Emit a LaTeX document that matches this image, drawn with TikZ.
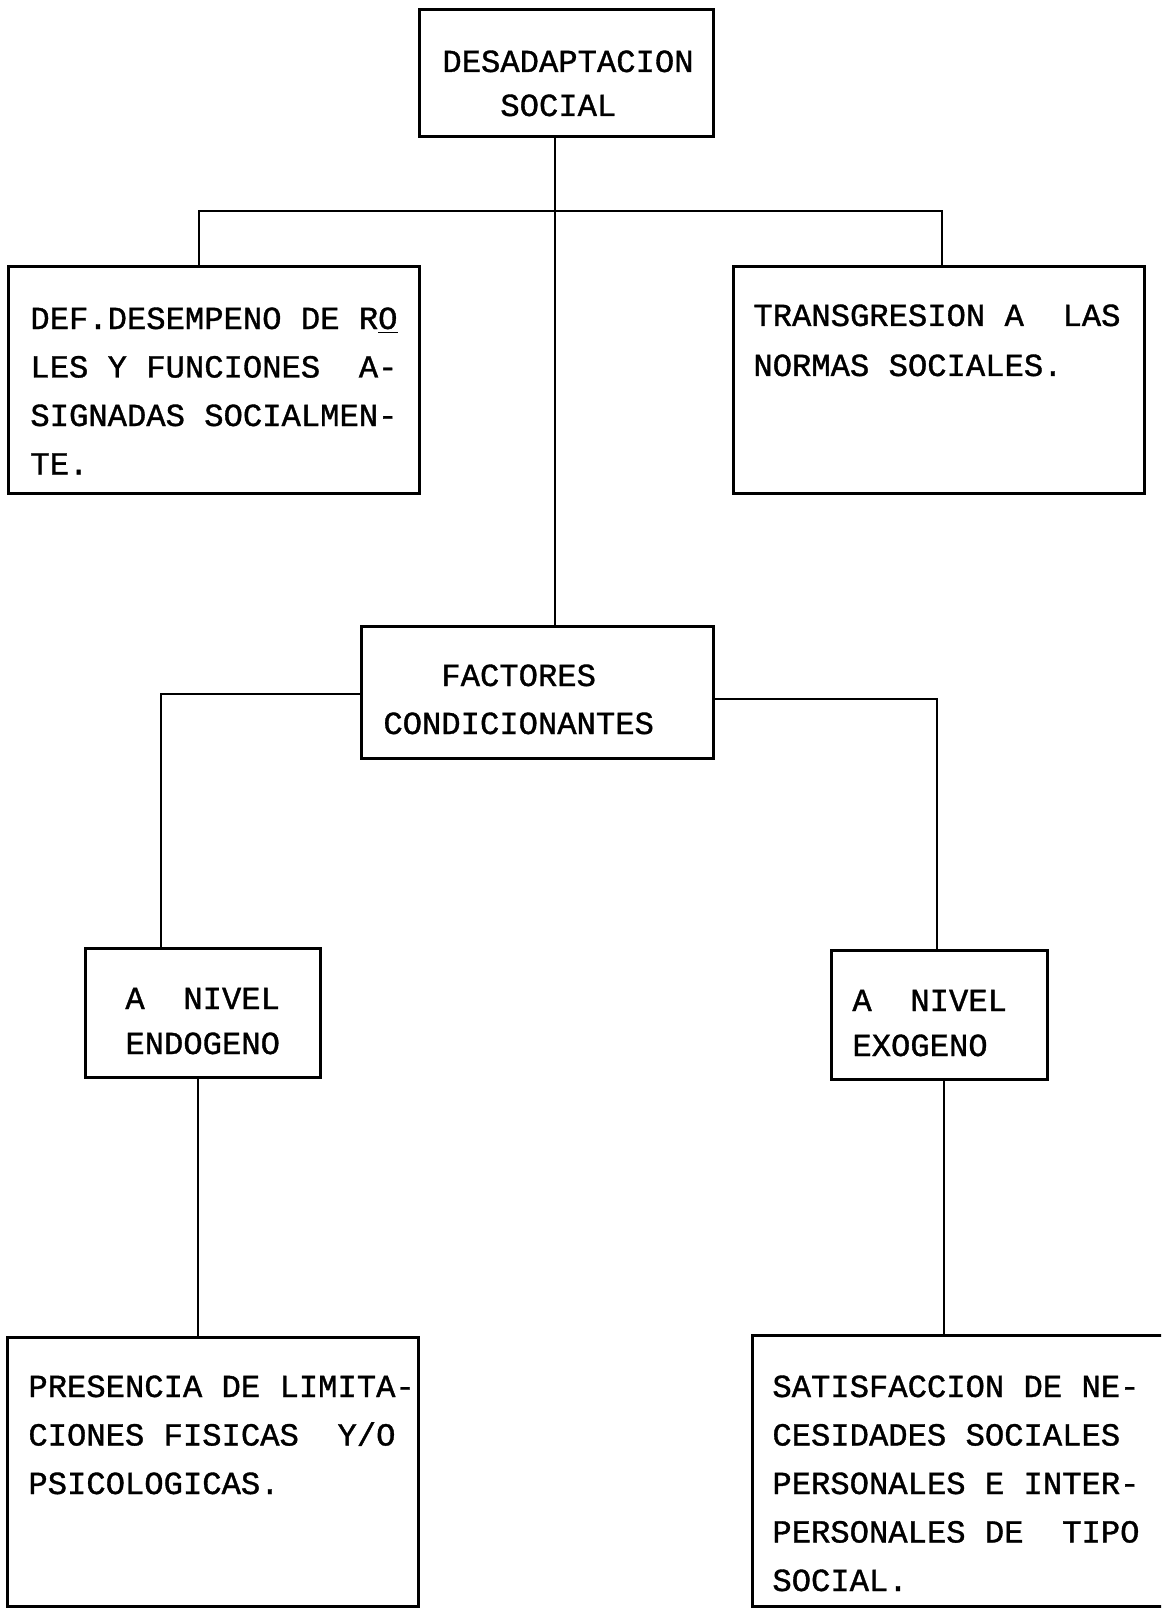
\documentclass[tikz,border=0pt]{standalone}
\usepackage{fontspec}
\usepackage{tikz}
\newfontfamily\typewriter[FakeBold=1.1]{Liberation Mono}
\newcommand\typed[1][24.25]{\typewriter\fontsize{16.1}{#1}\selectfont}

\begin{document}
\begin{tikzpicture}[x=0.5pt, y=-0.5pt,
		box/.style={draw, rectangle, line width=1.5pt, inner sep=0pt, outer sep=0pt},
		link/.style={line width=1pt},
		typed/.style={anchor=base west, inner sep=0pt, align=left, text width=215pt, text=black, font=\typed,
			execute at begin node={\spaceskip=9.66pt\relax\xspaceskip=9.66pt\relax}}]
			%%%%% START %%%%%
			
			\useasboundingbox (0,0) rectangle (1161,1610);
			\clip (0,0) rectangle (1161,1610);
			
			% boxes
			\node[box, minimum width=147pt, minimum height=63.5pt] (desadap) at (566,73.5) {};
			\node[box, minimum width=205.5pt, minimum height=113pt] (roles) at (213.5,380) {};
			\node[box, minimum width=205.5pt, minimum height=113pt] (normas) at (938.5,380) {};
			\node[box, minimum width=176pt, minimum height=66pt] (factores) at (537,692) {};
			\node[box, minimum width=117.5pt, minimum height=64.5pt] (endo) at (202.5,1012.5) {};
			\node[box, minimum width=108pt, minimum height=64.5pt] (exo) at (939,1014.5) {};
			\node[box, minimum width=205.5pt, minimum height=134.5pt] (limit) at (212.5,1471.5) {};
			\node[box, minimum width=214pt, minimum height=135.5pt] (needs) at (966,1470.5) {};
			
			% typed texts
			\node[typed, font={\typed[22]}] (desadapText) at (442,72) {DESADAPTACION\\\phantom{XXX}SOCIAL};
			\node[typed] (rolesText) at (30,329) {DEF.DESEMPENO DE R\underline{O}\\LES Y FUNCIONES~~A-\\SIGNADAS SOCIALMEN-\\TE.};
			\node[typed, font={\typed[25]}] (normasText) at (753,326) {TRANSGRESION A~~LAS\\NORMAS SOCIALES.};
			\node[typed, font={\typed[24]}] (factoresText) at (383,686) {\phantom{XXX}FACTORES\\CONDICIONANTES};
			\node[typed, font={\typed[22.5]}] (endoText) at (125,1009) {A~~NIVEL\\ENDOGENO};
			\node[typed, font={\typed[22.5]}] (exoText) at (852,1011) {A~~NIVEL\\EXOGENO};
			\node[typed] (limitText) at (28,1397) {PRESENCIA DE LIMITA-\\CIONES FISICAS~~Y/O\\PSICOLOGICAS.};
			\node[typed] (needsText) at (772,1397) {SATISFACCION DE NE-\\CESIDADES SOCIALES\\PERSONALES E INTER-\\PERSONALES DE~~TIPO\\SOCIAL.};
			
			% connectors
			\coordinate (trunk) at (555,211);
			\coordinate (lbar) at (199,211);
			\coordinate (rbar) at (942,211);
			\coordinate (lcorner) at (161,694);
			\coordinate (rcorner) at (937,699);
			\coordinate (ldrop) at (198,1200);
			\coordinate (rdrop) at (944,1200);
			
			\draw[link] (desadap.south -| trunk) -- (factores.north -| trunk);
			\draw[link] (roles.north -| lbar) -- (lbar) -- (rbar) -- (normas.north -| rbar);
			\draw[link] (factores.west |- lcorner) -- (lcorner) -- (endo.north -| lcorner);
			\draw[link] (factores.east |- rcorner) -- (rcorner) -- (exo.north -| rcorner);
			\draw[link] (endo.south -| ldrop) -- (limit.north -| ldrop);
			\draw[link] (exo.south -| rdrop) -- (needs.north -| rdrop);
			
			%%%%% END %%%%%
		\end{tikzpicture}
\end{document}
